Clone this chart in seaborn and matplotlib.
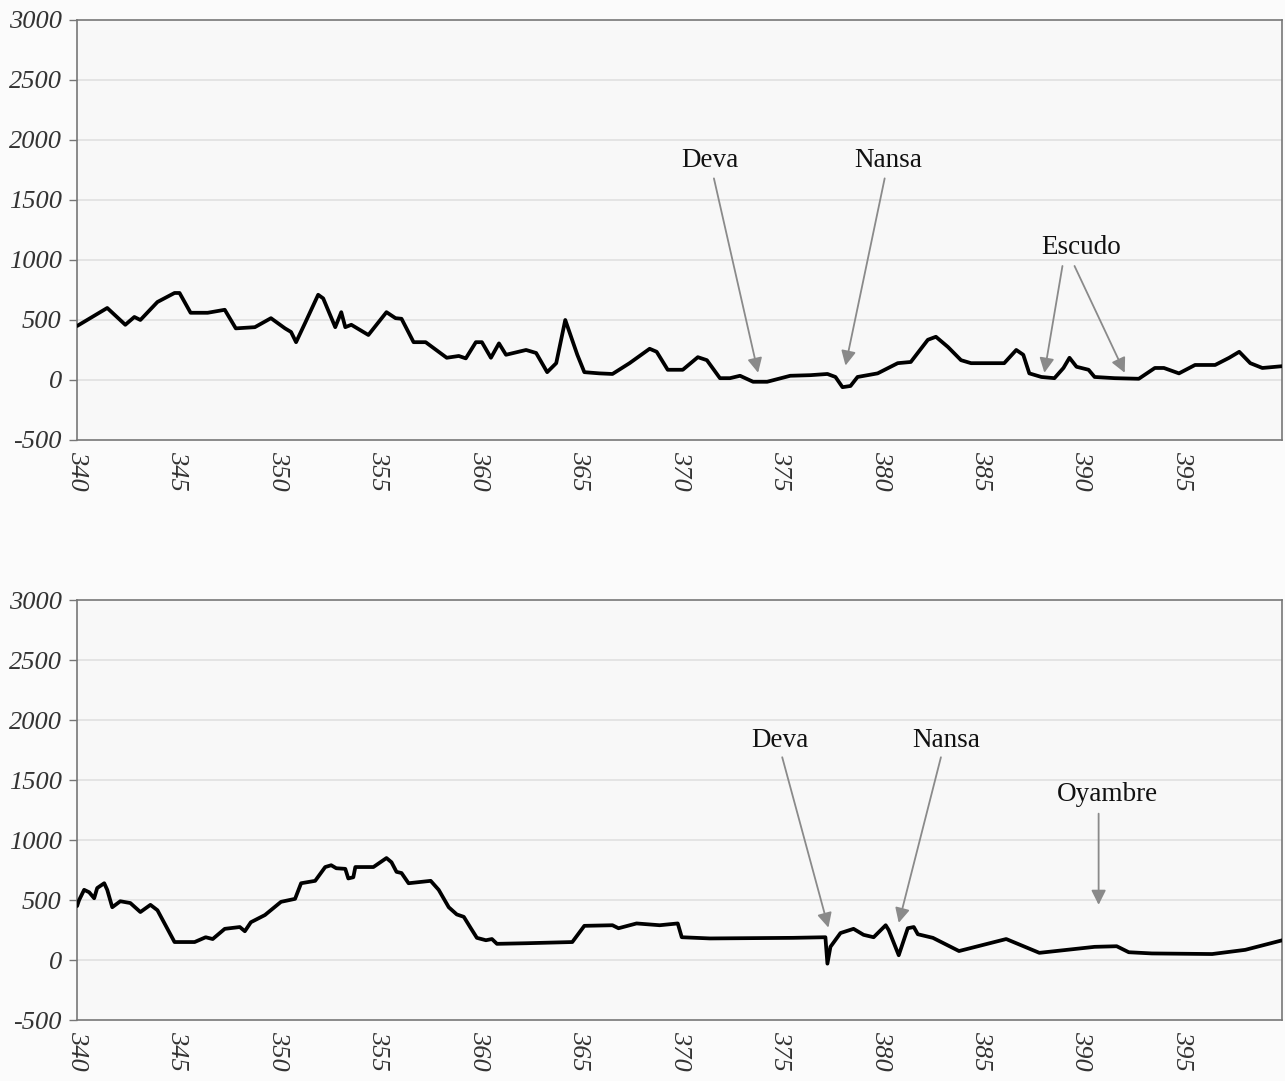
import numpy as np
import pandas as pd
import matplotlib
matplotlib.use("Agg")
import matplotlib.pyplot as plt
import seaborn as sns

# ---------- data ----------
top_km = [340.0, 341.5, 342.4, 342.85, 343.15, 344.0, 344.85, 345.1, 345.65, 346.5,
          347.35, 347.9, 348.85, 349.65, 350.35, 350.65, 350.9, 351.35, 352.0, 352.25,
          352.85, 353.15, 353.35, 353.65, 354.5, 355.4, 355.85, 356.15, 356.75, 357.35,
          358.4, 359.0, 359.35, 359.85, 360.15, 360.6, 361.0, 361.35, 362.35, 362.85,
          363.4, 363.85, 364.3, 364.9, 365.25, 366.0, 366.65, 367.5, 368.5, 368.85,
          369.4, 370.15, 370.9, 371.35, 372.0, 372.5, 373.0, 373.65, 374.35, 375.5,
          376.5, 377.35, 377.75, 378.1, 378.5, 378.85, 379.85, 380.85, 381.5, 382.35,
          382.75, 383.35, 384.0, 384.5, 386.15, 386.75, 387.1, 387.4, 388.0, 388.65,
          389.1, 389.4, 389.75, 390.35, 390.65, 391.65, 392.85, 393.65, 394.1, 394.85,
          395.65, 396.65, 397.35, 397.85, 398.4, 399.0, 400.0]
top_val = [450, 600, 460, 525, 500, 650, 725, 725, 560, 560,
           585, 430, 440, 515, 430, 400, 315, 475, 710, 680,
           440, 565, 440, 460, 375, 565, 515, 510, 315, 315,
           185, 200, 180, 315, 315, 185, 305, 210, 250, 225,
           65, 140, 500, 210, 65, 55, 50, 140, 260, 235,
           85, 85, 190, 165, 15, 15, 35, -15, -15, 35,
           40, 50, 25, -60, -50, 25, 55, 140, 150, 335,
           360, 275, 165, 140, 140, 250, 210, 55, 25, 15,
           100, 185, 110, 85, 25, 15, 10, 100, 100, 55,
           125, 125, 185, 235, 140, 100, 115]

bot_km = [340.0, 340.1, 340.35, 340.6, 340.85, 341.0, 341.35, 341.5, 341.75, 342.15,
          342.65, 343.15, 343.65, 344.0, 344.85, 345.85, 346.4, 346.75, 347.35, 348.1,
          348.35, 348.65, 349.35, 350.15, 350.85, 351.15, 351.85, 352.35, 352.65, 352.9,
          353.35, 353.5, 353.75, 353.85, 354.75, 355.4, 355.65, 355.9, 356.15, 356.5,
          357.6, 358.0, 358.5, 358.9, 359.25, 359.6, 359.9, 360.35, 360.65, 360.9,
          362.35, 364.65, 365.25, 366.65, 366.95, 367.85, 369.0, 369.9, 370.1, 371.5,
          375.65, 377.25, 377.35, 377.5, 378.0, 378.65, 379.15, 379.65, 380.25, 380.4,
          380.9, 381.35, 381.65, 381.85, 382.6, 383.9, 386.25, 387.9, 390.65, 391.75,
          392.35, 393.5, 396.5, 398.15, 400.0]
bot_val = [450, 500, 585, 565, 515, 600, 640, 585, 440, 490,
           475, 400, 460, 415, 150, 150, 190, 175, 260, 275,
           240, 315, 375, 485, 510, 640, 660, 775, 790, 765,
           760, 680, 690, 775, 775, 850, 815, 735, 725, 640,
           660, 585, 440, 380, 360, 265, 185, 165, 175, 135,
           140, 150, 285, 290, 265, 305, 290, 305, 190, 180,
           185, 190, -30, 110, 225, 260, 210, 190, 290, 250,
           40, 265, 275, 215, 185, 75, 175, 60, 110, 115,
           65, 55, 50, 85, 165]

# labels: (text, text_x, text_y, [(arrow_start_x, start_y, tip_x, tip_y), ...])
top_labels = [
    ("Deva", 371.5, 1830, [(371.7, 1680, 373.9, 60)]),
    ("Nansa", 380.4, 1830, [(380.2, 1680, 378.25, 120)]),
    ("Escudo", 390.0, 1100, [(389.05, 950, 388.15, 60), (389.65, 950, 392.15, 60)]),
]
bot_labels = [
    ("Deva", 375.0, 1830, [(375.1, 1690, 377.4, 270)]),
    ("Nansa", 383.25, 1830, [(383.0, 1690, 380.9, 310)]),
    ("Oyambre", 391.3, 1380, [(390.85, 1220, 390.85, 460)]),
]

y_ticks = list(range(-500, 3001, 500))
x_ticks = list(range(340, 400, 5))

sns.set_style("white")
plt.rcParams["font.family"] = ["Liberation Serif", "DejaVu Serif"]
plt.rcParams["axes.unicode_minus"] = False

fig = plt.figure(figsize=(12.85, 10.81), dpi=100, facecolor="#fbfbfb")
ax_top = fig.add_axes([0.060, 0.593, 0.938, 0.3885])
ax_bot = fig.add_axes([0.060, 0.0564, 0.938, 0.3885])

panels = [(ax_top, top_km, top_val, top_labels), (ax_bot, bot_km, bot_val, bot_labels)]
for ax, km, val, labels in panels:
    df = pd.DataFrame({"km": km, "alt": val})
    ax.set_facecolor("#f8f8f8")
    for yv in y_ticks[1:-1]:
        ax.axhline(yv, color="#e2e2e2", lw=1.3, zorder=0)
    sns.lineplot(data=df, x="km", y="alt", ax=ax, color="black", lw=2.7, zorder=3,
                 solid_joinstyle="round", solid_capstyle="round")
    ax.set_xlim(340, 400)
    ax.set_ylim(-500, 3000)
    ax.set_yticks(y_ticks)
    ax.set_yticklabels([str(t) for t in y_ticks], fontstyle="italic",
                       fontsize=19, color="#333333")
    ax.set_xticks(x_ticks)
    ax.set_xticklabels([str(t) for t in x_ticks], rotation=-90, fontstyle="italic",
                       fontsize=19, color="#333333", va="top", ha="center")
    ax.tick_params(axis="y", length=6, width=1, color="#777777", pad=5, left=True)
    ax.tick_params(axis="x", length=0, pad=8, bottom=True)
    ax.set_xlabel("")
    ax.set_ylabel("")
    for sp in ax.spines.values():
        sp.set_color("#777777")
        sp.set_linewidth(1.2)
    for text, tx, ty, arrows in labels:
        ax.text(tx, ty, text, fontsize=19.5, ha="center", va="center", color="#111111")
        for sx, sy, ex, ey in arrows:
            ax.annotate("", xy=(ex, ey), xytext=(sx, sy),
                        arrowprops=dict(arrowstyle="-|>", color="#8a8a8a", lw=1.3,
                                        mutation_scale=22, shrinkA=0, shrinkB=0))

fig.savefig("out.png", dpi=100, facecolor=fig.get_facecolor())
